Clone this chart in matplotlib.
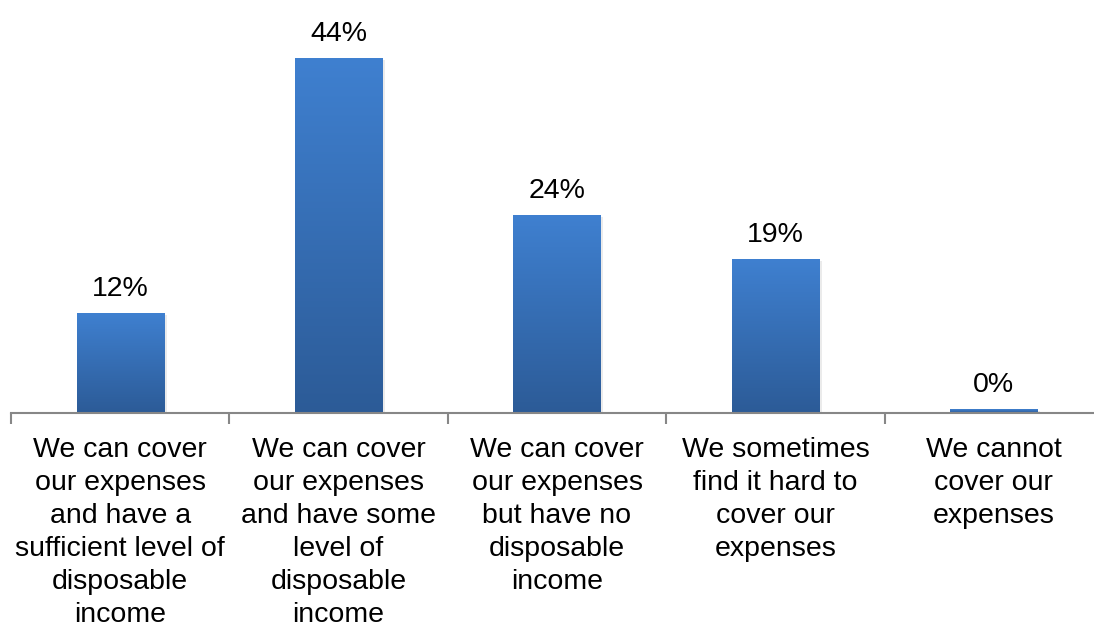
import matplotlib.pyplot as plt
import numpy as np
from matplotlib.colors import LinearSegmentedColormap

categories = [
    "We can cover\nour expenses\nand have a\nsufficient level of\ndisposable\nincome",
    "We can cover\nour expenses\nand have some\nlevel of\ndisposable\nincome",
    "We can cover\nour expenses\nbut have no\ndisposable\nincome",
    "We sometimes\nfind it hard to\ncover our\nexpenses",
    "We cannot\ncover our\nexpenses",
]
values = [12.3, 43.8, 24.4, 18.9, 0.4]
labels = ["12%", "44%", "24%", "19%", "0%"]

plt.rcParams['font.family'] = ['Liberation Sans', 'DejaVu Sans']

fig = plt.figure(figsize=(10.94, 6.28), dpi=100)
# axes stretches a little past the right edge, like the original
ax = fig.add_axes([11 / 1094, 1 - 413 / 628, 1092 / 1094, 413 / 628])

x = np.arange(len(values))
width = 0.40

cmap = LinearSegmentedColormap.from_list("bar", ["#2c5b97", "#3f80d0"])
grad = np.linspace(0, 1, 256).reshape(-1, 1)

bars = ax.bar(x, values, width=width, color="none", edgecolor="none")
for b, lab in zip(bars, labels):
    x0, h = b.get_x(), b.get_height()
    # soft shadow
    ax.bar(x0 + width / 2 + 0.012, h, width=width, bottom=-0.15,
           color="#000000", alpha=0.08, zorder=1)
    ax.imshow(grad, cmap=cmap, origin="lower", aspect="auto",
              extent=[x0, x0 + width, 0, h], zorder=2)
    ax.text(x0 + width / 2, h + 1.45, lab, ha="center", va="bottom",
            fontsize=20.5, color="#000000")

ax.set_xlim(-0.5, len(values) - 0.5)
ax.set_ylim(0, 51)

for s in ["top", "right", "left"]:
    ax.spines[s].set_visible(False)
ax.spines["bottom"].set_color("#878787")
ax.spines["bottom"].set_linewidth(1.5)
ax.set_yticks([])

ax.set_xticks(x)
ax.set_xticklabels(categories, fontsize=20.5, linespacing=1.35, va="top")
ax.tick_params(axis="x", which="major", length=0, pad=17)
ax.set_xticks(np.arange(len(values) + 1) - 0.5, minor=True)
ax.tick_params(axis="x", which="minor", length=8, width=1.5, color="#878787")

fig.savefig("out.png", dpi=100)
